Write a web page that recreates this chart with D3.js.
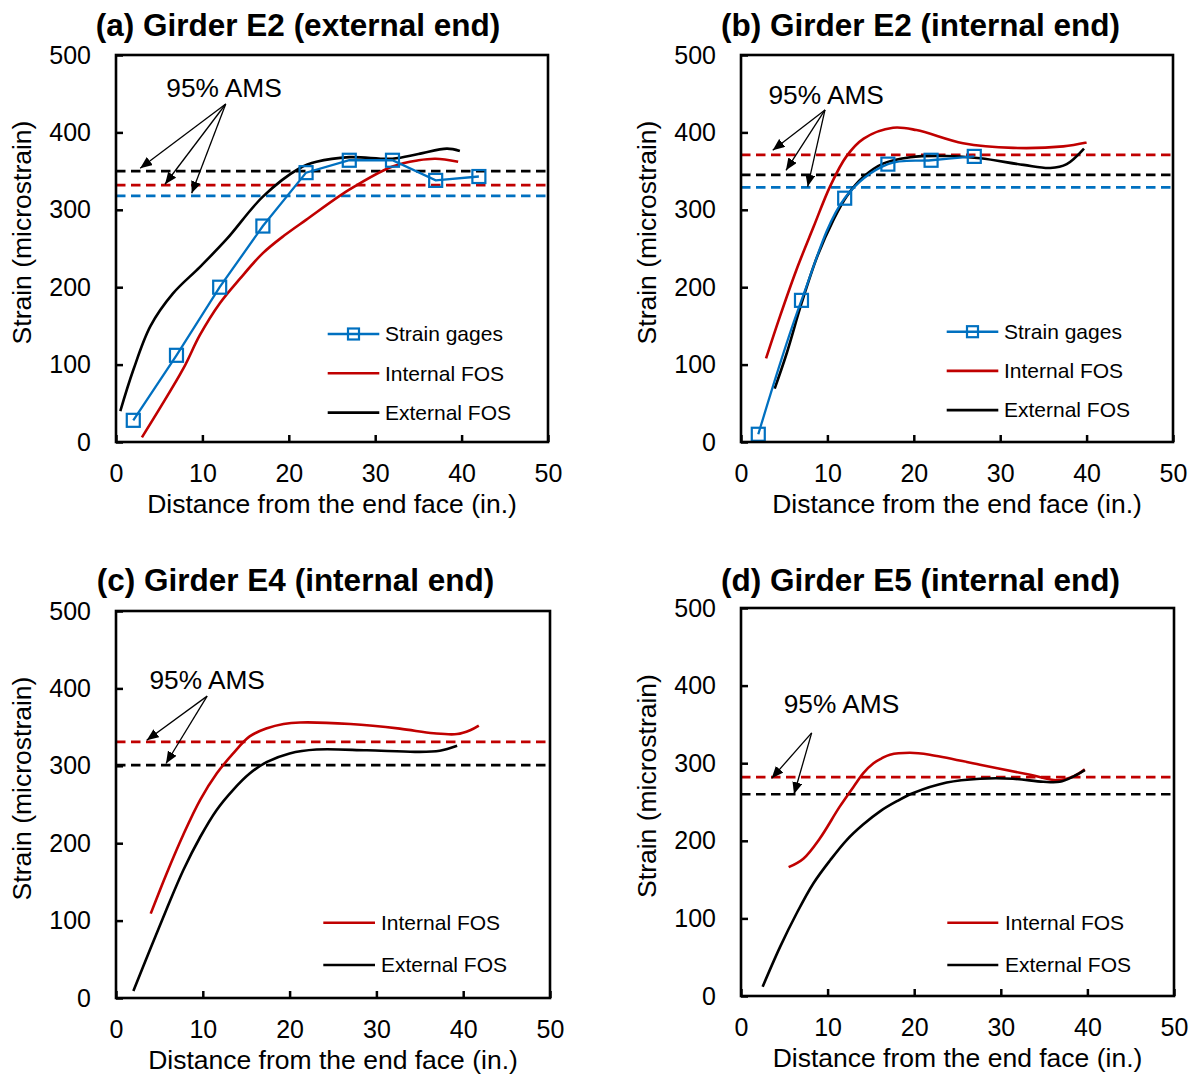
<!DOCTYPE html>
<html>
<head>
<meta charset="utf-8">
<script src="https://cdn.jsdelivr.net/npm/d3@7"></script>
<style>
  html, body { margin: 0; padding: 0; background: #fff; }
  svg { display: block; }
  text { font-family: "Liberation Sans", Arial, Helvetica, sans-serif; fill: #000; }
</style>
</head>
<body>
<svg id="chart" width="1195" height="1076"></svg>
<script>
// ---- shared axis settings ----
const xTicks = [0, 10, 20, 30, 40, 50];
const yTicks = [0, 100, 200, 300, 400, 500];
const xTitle = "Distance from the end face (in.)";
const yTitle = "Strain (microstrain)";
const seriesNames = ["Strain gages", "Internal FOS", "External FOS"];
const amsText = "95% AMS";

// ---- (a) Girder E2, external end ----
const gagesA = [[2, 28], [7, 112], [12, 200], [17, 279], [22, 348], [27, 364], [32, 364], [37, 338], [42, 343]];
const internalA = [[3, 6], [5.1, 44], [7.8, 95], [9.7, 138], [12, 179], [14.35, 211], [17, 244], [19.5, 267], [22, 287], [27, 326], [32, 356], [35, 364], [37, 366], [39.6, 362]];
const externalA = [[0.5, 40], [2, 93], [4, 150], [6.6, 192], [9.7, 226], [12.8, 262], [17, 317], [21.3, 354], [23.2, 362], [27, 368], [32, 366], [35, 372], [38.3, 379], [39.8, 376]];
const amsA = { gages: 318, internal: 332, external: 350 };

// ---- (b) Girder E2, internal end ----
const gagesB = [[2, 10], [7, 183], [12, 315], [17, 359], [22, 364], [27, 369]];
const internalB = [[2.9, 108], [4.5, 162], [6.4, 222], [8.4, 278], [10.3, 330], [12.2, 369], [14.2, 392], [17.6, 406], [20.3, 403], [25.7, 386], [31.5, 380], [37.3, 382], [40, 387]];
const externalB = [[3.9, 69], [5.3, 115], [7, 179], [8.8, 239], [10.7, 287], [12.2, 317], [14.2, 343], [16.5, 360], [19.6, 368], [23.8, 369.5], [27.7, 366.5], [32.7, 358], [35.8, 354], [37.7, 359], [39.7, 379]];
const amsB = { gages: 329, internal: 371, external: 345 };

// ---- (c) Girder E4, internal end ----
const internalC = [[4, 109], [5.8, 160], [7.75, 211], [9.7, 256], [11.6, 290], [13.5, 316], [15.4, 338], [17.4, 348.5], [19.3, 354], [21.2, 356], [27, 354], [32.7, 348], [36.6, 342], [39.3, 341], [40.8, 346], [41.8, 352]];
const externalC = [[2, 9], [3.9, 62], [5.8, 114], [7.75, 165], [9.7, 208], [11.6, 243], [13.5, 269], [15.4, 290], [17.4, 305], [20, 316], [23.1, 321], [28.9, 320], [34.6, 318], [37.3, 319.5], [39.3, 326]];
const amsC = { internal: 331, external: 301 };

// ---- (d) Girder E5, internal end ----
const internalD = [[5.5, 166], [7.2, 177], [9.1, 203], [11.4, 244], [13.4, 276], [14.1, 287], [15.3, 300], [16.2, 306], [17.2, 311], [19.5, 313.5], [21.8, 311], [27.6, 298], [33.4, 285], [36.5, 278], [38.4, 283], [39.7, 292]];
const externalD = [[2.5, 12], [4.5, 63], [6.4, 106], [8.35, 145], [10.3, 175], [12.2, 201], [14.1, 221], [16.05, 238], [18, 251], [19.9, 261.5], [23.75, 275], [27.6, 280], [31.4, 280], [34.9, 276], [36.8, 276], [38.4, 283], [39.7, 291]];
const amsD = { internal: 282, external: 260 };

// ---- styling ----
const COLORS = { gages: "#0070C0", internal: "#C00000", external: "#000000" };
const FONT = { title: 31.5, axisTitle: 26.5, tick: 25, note: 26.3, legend: 21 };

const svg = d3.select("#chart");

// Arrowhead used by the "95% AMS" callouts
svg.append("defs").append("marker")
  .attr("id", "arrowHead")
  .attr("viewBox", "0 0 12 10")
  .attr("refX", 12).attr("refY", 5)
  .attr("markerWidth", 12).attr("markerHeight", 10)
  .attr("markerUnits", "userSpaceOnUse")
  .attr("orient", "auto")
  .append("path")
  .attr("d", "M0,0 L12,5 L0,10 Z")
  .attr("fill", "#000");

function drawPanel(cfg) {
  const { left, top, width, height } = cfg.box;
  const x = d3.scaleLinear().domain([0, 50]).range([left, left + width]);
  const y = d3.scaleLinear().domain([0, 500]).range([top + height, top]);
  const g = svg.append("g");

  // title
  g.append("text")
    .attr("x", cfg.titlePos[0]).attr("y", cfg.titlePos[1])
    .attr("text-anchor", "middle")
    .style("font-size", FONT.title + "px").style("font-weight", "bold")
    .text(cfg.title);

  // axes with inward ticks
  const xAxis = g.append("g")
    .attr("transform", `translate(0,${top + height})`)
    .call(d3.axisBottom(x).tickValues(xTicks).tickSizeInner(-7).tickSizeOuter(0).tickPadding(22));
  const yAxis = g.append("g")
    .attr("transform", `translate(${left},0)`)
    .call(d3.axisLeft(y).tickValues(yTicks).tickSizeInner(-7).tickSizeOuter(0).tickPadding(25));
  [xAxis, yAxis].forEach(a => {
    a.select(".domain").remove();
    a.selectAll(".tick line").attr("stroke", "#000").attr("stroke-width", 2.5);
    a.selectAll(".tick text").style("font-size", FONT.tick + "px")
      .style("font-family", '"Liberation Sans", Arial, sans-serif').attr("fill", "#000");
  });

  // axis titles
  g.append("text")
    .attr("x", left + width / 2).attr("y", top + height + 62)
    .attr("dy", "0.35em").attr("text-anchor", "middle")
    .style("font-size", FONT.axisTitle + "px")
    .text(xTitle);
  g.append("text")
    .attr("transform", `translate(${cfg.yTitleX},${top + height / 2 - 16}) rotate(-90)`)
    .attr("dy", "0.35em").attr("text-anchor", "middle")
    .style("font-size", FONT.axisTitle + "px")
    .text(yTitle);

  // 95% AMS reference levels
  cfg.ams.forEach(a => {
    g.append("line")
      .attr("x1", x(0)).attr("x2", x(50))
      .attr("y1", y(a.value)).attr("y2", y(a.value))
      .attr("stroke", COLORS[a.key]).attr("stroke-width", 2.7)
      .attr("stroke-dasharray", "9.5,5.5");
  });

  // FOS curves and strain gage readings
  const smooth = d3.line().x(d => x(d[0])).y(d => y(d[1])).curve(d3.curveCatmullRom.alpha(0.5));
  const straight = d3.line().x(d => x(d[0])).y(d => y(d[1]));
  if (cfg.internal) {
    g.append("path").attr("d", smooth(cfg.internal))
      .attr("fill", "none").attr("stroke", COLORS.internal).attr("stroke-width", 2.6);
  }
  if (cfg.external) {
    g.append("path").attr("d", smooth(cfg.external))
      .attr("fill", "none").attr("stroke", COLORS.external).attr("stroke-width", 2.6);
  }
  if (cfg.gages) {
    const lineGen = cfg.gagesSmooth ? smooth : straight;
    g.append("path").attr("d", lineGen(cfg.gages))
      .attr("fill", "none").attr("stroke", COLORS.gages).attr("stroke-width", 2.3);
    g.selectAll(".gage").data(cfg.gages).enter().append("rect")
      .attr("x", d => x(d[0]) - 6.5).attr("y", d => y(d[1]) - 6.5)
      .attr("width", 13).attr("height", 13)
      .attr("fill", "none").attr("stroke", COLORS.gages).attr("stroke-width", 2.2);
  }

  // frame
  g.append("rect")
    .attr("x", left).attr("y", top).attr("width", width).attr("height", height)
    .attr("fill", "none").attr("stroke", "#000").attr("stroke-width", 2.6);

  // "95% AMS" callout
  g.append("text")
    .attr("x", x(cfg.note.label[0])).attr("y", y(cfg.note.label[1]))
    .attr("dy", "0.35em").attr("text-anchor", "middle")
    .style("font-size", FONT.note + "px")
    .text(amsText);
  cfg.note.tips.forEach(t => {
    g.append("line")
      .attr("x1", x(cfg.note.from[0])).attr("y1", y(cfg.note.from[1]))
      .attr("x2", x(t[0])).attr("y2", y(t[1]))
      .attr("stroke", "#000").attr("stroke-width", 1.3)
      .attr("marker-end", "url(#arrowHead)");
  });

  // legend
  const lg = cfg.legend;
  lg.rows.forEach((row, i) => {
    const ly = top + lg.y0 + i * lg.step;
    g.append("line")
      .attr("x1", left + lg.x1).attr("x2", left + lg.x2)
      .attr("y1", ly).attr("y2", ly)
      .attr("stroke", COLORS[row.key]).attr("stroke-width", 2.6);
    if (row.key === "gages") {
      g.append("rect")
        .attr("x", left + (lg.x1 + lg.x2) / 2 - 5.5).attr("y", ly - 5.5)
        .attr("width", 11).attr("height", 11)
        .attr("fill", "none").attr("stroke", COLORS.gages).attr("stroke-width", 2.2);
    }
    g.append("text")
      .attr("x", left + lg.tx).attr("y", ly).attr("dy", "0.35em")
      .style("font-size", FONT.legend + "px")
      .text(row.name);
  });
}

drawPanel({
  box: { left: 116, top: 55, width: 432, height: 387 },
  title: "(a) Girder E2 (external end)", titlePos: [298, 36], yTitleX: 22,
  gages: gagesA, internal: internalA, external: externalA,
  ams: [{ key: "external", value: amsA.external }, { key: "internal", value: amsA.internal }, { key: "gages", value: amsA.gages }],
  note: { label: [12.5, 457], from: [12.7, 436.7], tips: [[2.8, 353.6], [5.67, 333], [8.76, 321.3]] },
  legend: { x1: 211.7, x2: 263.3, tx: 269, y0: 279, step: 39.3,
    rows: [{ key: "gages", name: seriesNames[0] }, { key: "internal", name: seriesNames[1] }, { key: "external", name: seriesNames[2] }] }
});

drawPanel({
  box: { left: 741, top: 55, width: 432, height: 387 },
  title: "(b) Girder E2 (internal end)", titlePos: [920.5, 36], yTitleX: 647,
  gages: gagesB, gagesSmooth: true, internal: internalB, external: externalB,
  ams: [{ key: "internal", value: amsB.internal }, { key: "external", value: amsB.external }, { key: "gages", value: amsB.gages }],
  note: { label: [9.86, 448], from: [9.72, 429], tips: [[3.67, 377], [5.21, 351], [7.72, 330]] },
  legend: { x1: 205.7, x2: 257.3, tx: 263, y0: 276.7, step: 39.2,
    rows: [{ key: "gages", name: seriesNames[0] }, { key: "internal", name: seriesNames[1] }, { key: "external", name: seriesNames[2] }] }
});

drawPanel({
  box: { left: 116, top: 611, width: 434, height: 387 },
  title: "(c) Girder E4 (internal end)", titlePos: [295.5, 591], yTitleX: 22,
  internal: internalC, external: externalC,
  ams: [{ key: "internal", value: amsC.internal }, { key: "external", value: amsC.external }],
  note: { label: [10.5, 411], from: [10.5, 390], tips: [[3.54, 333], [5.76, 303]] },
  legend: { x1: 207.3, x2: 259, tx: 265, y0: 311.7, step: 42.3,
    rows: [{ key: "internal", name: seriesNames[1] }, { key: "external", name: seriesNames[2] }] }
});

drawPanel({
  box: { left: 741, top: 608, width: 433, height: 388 },
  title: "(d) Girder E5 (internal end)", titlePos: [920.5, 591], yTitleX: 647,
  internal: internalD, external: externalD,
  ams: [{ key: "internal", value: amsD.internal }, { key: "external", value: amsD.external }],
  note: { label: [11.6, 376], from: [8.16, 339], tips: [[3.54, 280.5], [6.12, 260]] },
  legend: { x1: 206.3, x2: 257.3, tx: 264, y0: 314.7, step: 42.3,
    rows: [{ key: "internal", name: seriesNames[1] }, { key: "external", name: seriesNames[2] }] }
});
</script>
</body>
</html>
